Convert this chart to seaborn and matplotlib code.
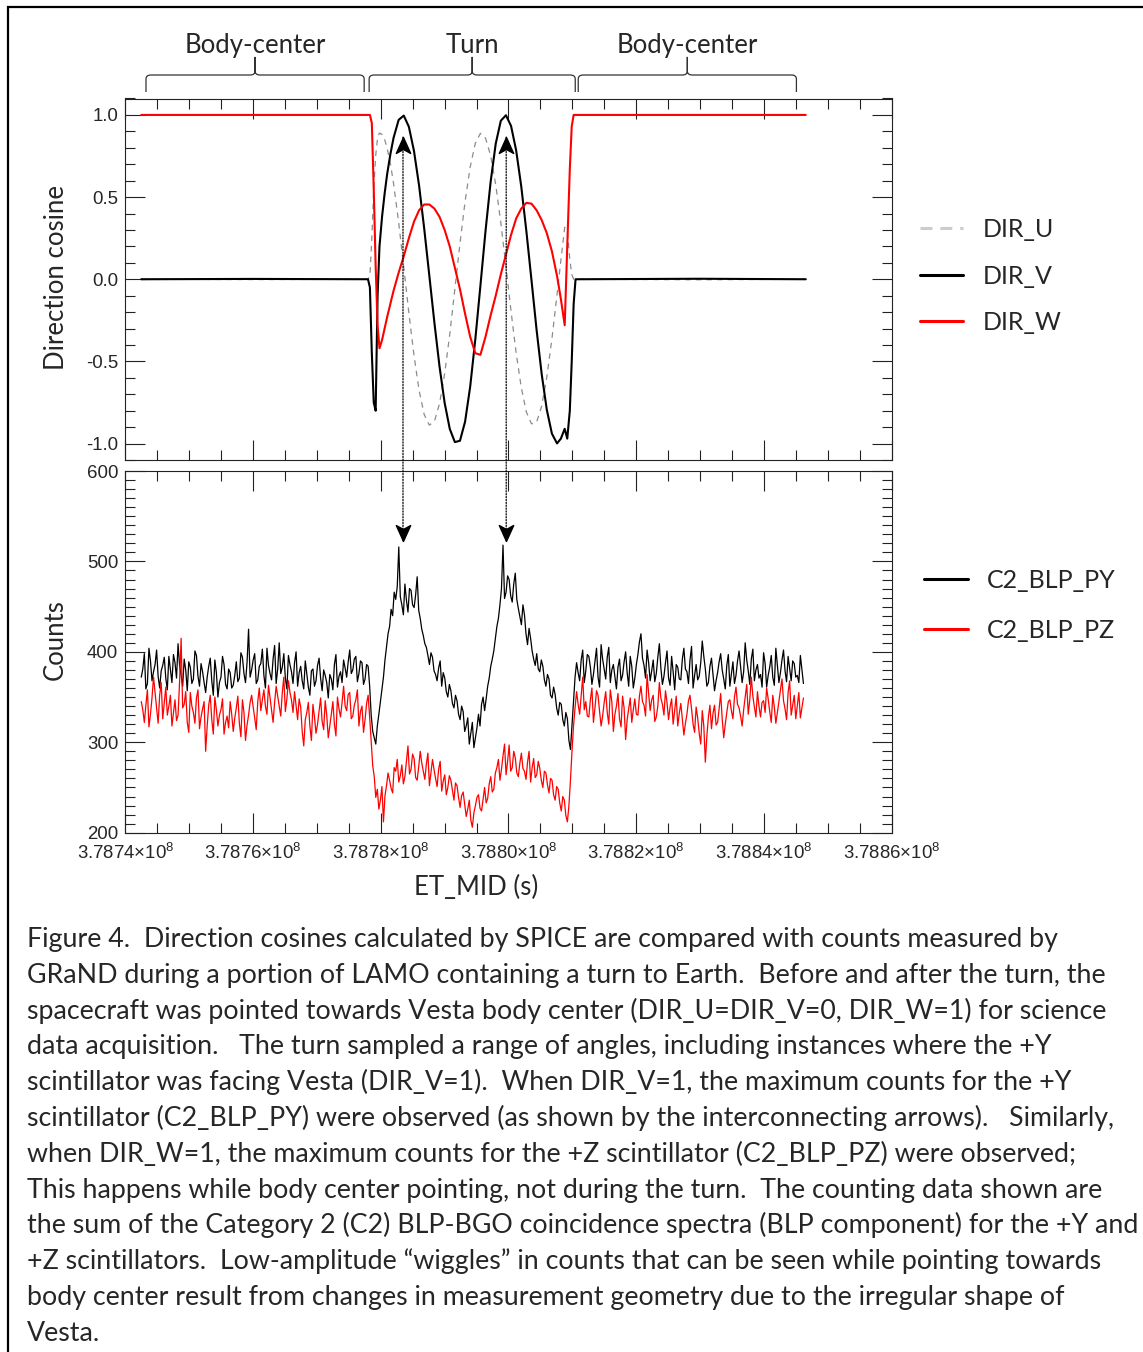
import numpy as np
import pandas as pd
import matplotlib
matplotlib.use("Agg")
import matplotlib.pyplot as plt
from matplotlib.lines import Line2D
from matplotlib.patches import ConnectionPatch, PathPatch, Rectangle
from matplotlib.path import Path
from matplotlib.ticker import MultipleLocator, FuncFormatter, FormatStrFormatter
from matplotlib.transforms import blended_transform_factory
import seaborn as sns

# ET_MID reference epoch (s); all times below are offsets from it
T0 = 378740000.0

# Direction cosines
dir_t = [2500, 20000,
         38000, 38300, 38600, 38900, 39200, 39500, 39800, 40200, 40600, 41000, 41500, 42000,
         42800, 43600, 44400, 45200, 46000, 46800, 47600, 48400, 49200, 50000, 50800, 51600,
         52400, 53200, 54000, 54800, 55600, 56400, 57200, 58000, 58800, 59600,
         60400, 61200, 62000, 62800, 63600, 64400, 65200, 66000, 66800, 67600,
         68200, 68800, 69200, 69600, 69900, 70200, 70500, 71000,
         90000, 106550]
dir_u = [0.0, -0.002,
         0.0, 0.02, 0.25, 0.55, 0.75, 0.86, 0.89, 0.881, 0.851, 0.798, 0.705, 0.584,
         0.347, 0.074, -0.205, -0.463, -0.676, -0.823, -0.888, -0.865, -0.757, -0.575, -0.336, -0.060,
         0.217, 0.473, 0.683, 0.827, 0.888, 0.859, 0.753, 0.575, 0.343, 0.078,
         -0.195, -0.449, -0.659, -0.808, -0.880, -0.870, -0.771, -0.595, -0.362, -0.093,
         0.115, 0.316, 0.30, 0.12, 0.03, 0.0, 0.0, 0.0,
         -0.003, 0.0]
dir_v = [0.0, 0.002,
         0.0, -0.05, -0.45, -0.75, -0.8, -0.1, 0.2, 0.38, 0.52, 0.64, 0.76, 0.86,
         0.97, 0.996, 0.928, 0.781, 0.570, 0.309, 0.023, -0.265, -0.531, -0.752, -0.910, -0.991,
         -0.983, -0.867, -0.654, -0.367, -0.04, 0.293, 0.592, 0.825, 0.965, 0.998,
         0.933, 0.784, 0.564, 0.292, -0.006, -0.309, -0.578, -0.795, -0.940, -0.999,
         -0.97, -0.91, -0.97, -0.8, -0.5, -0.15, 0.0, 0.0,
         0.003, 0.0]
dir_w = [1.0, 1.0,
         1.0, 1.0, 0.95, 0.55, 0.08, -0.28, -0.42, -0.37, -0.30, -0.23, -0.15, -0.07,
         0.04, 0.14, 0.25, 0.35, 0.42, 0.455, 0.455, 0.43, 0.38, 0.30, 0.20, 0.07,
         -0.06, -0.21, -0.35, -0.45, -0.46, -0.35, -0.22, -0.10, 0.03, 0.15,
         0.27, 0.37, 0.43, 0.465, 0.46, 0.42, 0.36, 0.28, 0.17, 0.02,
         -0.12, -0.28, 0.2, 0.67, 0.93, 1.0, 1.0, 1.0,
         1.0, 1.0]

# Counts, one value every 240 s starting at T0 + 2500 s
cnt_start = 2500.0
cnt_step = 240.0
c2_blp_py = [
    372, 381, 398, 359, 365, 404, 390, 368, 378, 386, 402, 373, 360, 379, 385, 394, 371, 358, 395, 380,
    366, 397, 388, 371, 409, 385, 374, 362, 392, 380, 357, 389, 383, 365, 370, 401, 396, 373, 362, 387,
    378, 366, 355, 372, 384, 393, 368, 352, 391, 377, 350, 366, 372, 395, 386, 364, 359, 381, 377, 360,
    363, 374, 389, 367, 371, 399, 394, 376, 366, 388, 425, 372, 380, 391, 398, 365, 369, 384, 387, 403,
    374, 360, 404, 385, 376, 369, 392, 407, 365, 381, 410, 376, 383, 398, 371, 359, 396, 386, 378, 365,
    388, 400, 362, 377, 384, 368, 359, 390, 376, 361, 352, 379, 381, 362, 368, 385, 393, 371, 357, 380,
    374, 366, 349, 375, 370, 358, 386, 397, 361, 373, 378, 366, 391, 382, 372, 389, 402, 376, 380, 392,
    395, 367, 376, 390, 388, 364, 370, 386, 384, 362,
    330, 312, 305, 298, 318, 331, 345, 358, 372, 391, 405, 420, 428, 447, 440, 466, 458, 472, 516, 461,
    452, 441, 475, 457, 444, 470, 468, 452, 449, 463, 483, 446, 437, 425, 418, 409, 405, 396, 386, 399,
    394, 379, 375, 368, 382, 390, 362, 377, 371, 356, 350, 364, 357, 343, 338, 352, 346, 331, 325, 340,
    334, 312, 318, 327, 298, 310, 322, 294, 305, 316, 331, 318, 342, 350, 335, 348, 362, 371, 384, 392,
    401, 415, 428, 437, 452, 470, 518, 459, 466, 484, 480, 462, 455, 475, 487, 458, 448, 439, 430, 452,
    441, 420, 408, 426, 415, 401, 392, 385, 398, 381, 378, 391, 384, 369, 362, 375, 370, 352, 349, 361,
    353, 338, 330, 344, 342, 325, 318, 333, 326, 302, 292, 318, 345, 372,
    388, 377, 368, 391, 402, 366, 379, 397, 395, 383, 364, 375, 390, 404, 372, 361, 408, 392, 381, 370,
    394, 405, 366, 380, 386, 372, 359, 383, 392, 368, 374, 389, 400, 377, 362, 395, 384, 360, 371, 386,
    397, 411, 420, 393, 385, 371, 402, 388, 368, 379, 391, 367, 376, 394, 409, 382, 364, 373, 388, 401,
    371, 363, 395, 378, 358, 386, 383, 370, 369, 392, 404, 381, 378, 365, 391, 406, 360, 374, 386, 369,
    373, 388, 412, 395, 381, 362, 366, 384, 393, 375, 357, 368, 377, 389, 398, 380, 370, 359, 385, 397,
    362, 376, 389, 365, 374, 390, 401, 383, 366, 378, 410, 391, 379, 364, 392, 403, 368, 380, 386, 371,
    375, 361, 399, 387, 361, 374, 383, 396, 372, 363, 404, 385, 366, 377, 391, 402, 379, 367, 395, 381,
    368, 390, 387, 372, 374, 366, 396, 380, 365]
c2_blp_pz = [
    345, 336, 322, 341, 358, 317, 331, 349, 372, 355, 338, 321, 352, 366, 326, 343, 361, 330, 340, 352,
    318, 333, 347, 324, 330, 367, 415, 338, 342, 356, 322, 311, 355, 340, 333, 321, 349, 358, 315, 328,
    337, 345, 290, 318, 341, 352, 325, 309, 350, 336, 318, 330, 336, 348, 309, 322, 329, 316, 345, 331,
    312, 327, 338, 351, 321, 306, 347, 333, 302, 319, 330, 344, 352, 339, 327, 314, 345, 360, 335, 347,
    358, 340, 331, 363, 349, 336, 322, 344, 362, 351, 340, 329, 355, 372, 334, 348, 368, 355, 347, 333,
    356, 341, 325, 348, 339, 312, 296, 325, 333, 344, 318, 302, 342, 328, 310, 320, 335, 349, 323, 314,
    346, 330, 305, 318, 331, 345, 320, 307, 350, 337, 328, 344, 362, 340, 335, 353, 355, 326, 329, 341,
    347, 358, 318, 334, 340, 311, 325, 343, 352, 328,
    300, 274, 262, 239, 248, 226, 236, 251, 212, 241, 252, 266, 258, 249, 244, 272, 268, 281, 256, 263,
    275, 254, 262, 279, 296, 265, 270, 287, 282, 261, 258, 273, 290, 277, 268, 259, 276, 288, 252, 266,
    281, 270, 260, 251, 270, 279, 246, 257, 264, 242, 250, 263, 258, 247, 236, 255, 252, 239, 228, 241,
    245, 231, 218, 226, 236, 214, 206, 222, 230, 239, 242, 227, 224, 237, 250, 233, 238, 254, 262, 245,
    248, 266, 272, 281, 258, 270, 285, 298, 264, 279, 297, 268, 272, 290, 283, 266, 262, 277, 288, 271,
    268, 259, 278, 290, 256, 272, 282, 261, 264, 279, 271, 258, 250, 268, 266, 253, 244, 260, 258, 242,
    236, 251, 248, 233, 224, 240, 236, 219, 212, 230, 258, 290, 318, 338,
    356, 342, 331, 351, 372, 336, 345, 329, 328, 347, 360, 322, 338, 357, 352, 334, 318, 329, 344, 356,
    333, 320, 358, 345, 312, 331, 340, 354, 326, 317, 351, 338, 303, 325, 337, 349, 322, 336, 348, 331,
    330, 351, 362, 345, 341, 329, 375, 354, 335, 347, 352, 323, 328, 340, 366, 349, 342, 330, 357, 344,
    325, 339, 348, 320, 336, 351, 318, 332, 343, 326, 308, 321, 331, 346, 352, 337, 320, 311, 339, 327,
    310, 298, 335, 318, 278, 307, 328, 341, 315, 332, 341, 319, 322, 337, 354, 326, 305, 320, 333, 345,
    347, 335, 326, 350, 361, 342, 338, 329, 318, 336, 350, 364, 331, 347, 372, 351, 339, 328, 356, 340,
    328, 344, 346, 333, 360, 348, 334, 322, 352, 339, 321, 333, 345, 358, 370, 346, 337, 325, 355, 368,
    330, 341, 352, 326, 341, 355, 327, 338, 349]

# times of the DIR_V = 1 peaks joined to the count maxima by arrows
arrow_t = [43480, 59640]

# pointing phases shown by braces above the plot
phase_labels = ["Body-center", "Turn", "Body-center"]
phase_start = [3240, 38180, 70920]
phase_end = [37400, 70450, 105080]

caption = [
    "Figure 4.  Direction cosines calculated by SPICE are compared with counts measured by",
    "GRaND during a portion of LAMO containing a turn to Earth.  Before and after the turn, the",
    "spacecraft was pointed towards Vesta body center (DIR_U=DIR_V=0, DIR_W=1) for science",
    "data acquisition.   The turn sampled a range of angles, including instances where the +Y",
    "scintillator was facing Vesta (DIR_V=1).  When DIR_V=1, the maximum counts for the +Y",
    "scintillator (C2_BLP_PY) were observed (as shown by the interconnecting arrows).   Similarly,",
    "when DIR_W=1, the maximum counts for the +Z scintillator (C2_BLP_PZ) were observed;",
    "This happens while body center pointing, not during the turn.  The counting data shown are",
    "the sum of the Category 2 (C2) BLP-BGO coincidence spectra (BLP component) for the +Y and",
    "+Z scintillators.  Low-amplitude \u201cwiggles\u201d in counts that can be seen while pointing towards",
    "body center result from changes in measurement geometry due to the irregular shape of",
    "Vesta.",
]

# ---- data frames
df_dir = pd.DataFrame({"ET_MID": T0 + np.array(dir_t, dtype=float),
                       "DIR_U": dir_u, "DIR_V": dir_v, "DIR_W": dir_w})
df_py = pd.DataFrame({"ET_MID": T0 + cnt_start + cnt_step * np.arange(len(c2_blp_py)),
                      "Counts": c2_blp_py})
df_pz = pd.DataFrame({"ET_MID": T0 + cnt_start + cnt_step * np.arange(len(c2_blp_pz)),
                      "Counts": c2_blp_pz})

# ---- style
sns.set_style("ticks")
plt.rcParams["font.family"] = ["Liberation Sans", "DejaVu Sans"]
plt.rcParams["mathtext.fontset"] = "custom"
plt.rcParams["mathtext.rm"] = "Liberation Sans"
plt.rcParams["mathtext.it"] = "Liberation Sans"
plt.rcParams["axes.unicode_minus"] = False
plt.rcParams["axes.edgecolor"] = "#222222"
plt.rcParams["axes.linewidth"] = 0.8
CAL = ["Lato", "DejaVu Sans"]
CAL_SIZE = 18.5

W, H = 1143, 1352
fig = plt.figure(figsize=(W / 100, H / 100), dpi=100)
ax_top = fig.add_axes([125.3 / W, 1 - 460 / H, 766.4 / W, 361.5 / H])
ax_bot = fig.add_axes([125.3 / W, 1 - 832.7 / H, 766.4 / W, 361.7 / H])

sns.lineplot(data=df_dir, x="ET_MID", y="DIR_U", ax=ax_top, color="#8c8c8c",
             linewidth=0.9, linestyle=(0, (4.5, 4)))
sns.lineplot(data=df_dir, x="ET_MID", y="DIR_V", ax=ax_top, color="black", linewidth=1.5)
sns.lineplot(data=df_dir, x="ET_MID", y="DIR_W", ax=ax_top, color="red", linewidth=1.5)

sns.lineplot(data=df_py, x="ET_MID", y="Counts", ax=ax_bot, color="black", linewidth=0.9)
sns.lineplot(data=df_pz, x="ET_MID", y="Counts", ax=ax_bot, color="red", linewidth=0.9)

for ax in (ax_top, ax_bot):
    ax.set_xlim(T0, T0 + 120000)
    ax.xaxis.set_major_locator(MultipleLocator(20000))
    ax.xaxis.set_minor_locator(MultipleLocator(5000))
    ax.tick_params(which="both", direction="in", top=True, right=True, width=0.8,
                   color="#222222", labelsize=13.4)
    ax.tick_params(which="major", length=14.4)
    ax.tick_params(which="minor", length=7.5)
    ax.tick_params(axis="y", pad=5)
    ax.tick_params(axis="x", pad=7)
    ax.set_xlabel("")
    ax.set_ylabel("")

ax_top.set_ylim(-1.1, 1.1)
ax_top.yaxis.set_major_locator(MultipleLocator(0.5))
ax_top.yaxis.set_minor_locator(MultipleLocator(0.1))
ax_top.yaxis.set_major_formatter(FormatStrFormatter("%.1f"))
ax_top.tick_params(axis="x", labelbottom=False)

ax_bot.set_ylim(200, 600)
ax_bot.yaxis.set_major_locator(MultipleLocator(100))
ax_bot.yaxis.set_minor_locator(MultipleLocator(10))
ax_bot.xaxis.set_major_formatter(FuncFormatter(lambda v, p: f"{v / 1e8:.4f}\u00d710$^{{8}}$"))

# axis titles
fig.text(57 / W, 1 - 277 / H, "Direction cosine", rotation=90, ha="center", va="center",
         family=CAL, fontsize=CAL_SIZE)
fig.text(55 / W, 1 - 640 / H, "Counts", rotation=90, ha="center", va="center",
         family=CAL, fontsize=CAL_SIZE)
fig.text(476 / W, 1 - 887 / H, "ET_MID (s)", ha="center", va="center",
         family=CAL, fontsize=CAL_SIZE)

# braces with phase labels
tr = blended_transform_factory(ax_top.transData, ax_top.transAxes)
r = 780.0
dy = 0.011
y_b, y_l, y_t = 1.018, 1.065, 1.115
for lab, a, b in zip(phase_labels, phase_start, phase_end):
    x0, x1 = T0 + a, T0 + b
    xm = (x0 + x1) / 2
    verts = [(x0, y_b), (x0, y_l - dy), (x0, y_l), (x0 + r, y_l), (xm - r, y_l),
             (xm, y_l), (xm, y_l + dy), (xm, y_t), (xm, y_l + dy), (xm, y_l), (xm + r, y_l),
             (x1 - r, y_l), (x1, y_l), (x1, y_l - dy), (x1, y_b)]
    codes = [Path.MOVETO, Path.LINETO, Path.CURVE3, Path.CURVE3, Path.LINETO,
             Path.CURVE3, Path.CURVE3, Path.LINETO, Path.LINETO, Path.CURVE3, Path.CURVE3,
             Path.LINETO, Path.CURVE3, Path.CURVE3, Path.LINETO]
    ax_top.add_patch(PathPatch(Path(verts, codes), transform=tr, fill=False,
                               lw=0.9, ec="#333333", clip_on=False))
    ax_top.text(xm, 1.126, lab, transform=tr, ha="center", va="baseline",
                family=CAL, fontsize=CAL_SIZE)

# interconnecting arrows
up_head = Path([(0, 1), (0.9, -1), (0, -0.5), (-0.9, -1), (0, 1)],
               [Path.MOVETO, Path.LINETO, Path.LINETO, Path.LINETO, Path.CLOSEPOLY])
down_head = Path([(0, -1), (0.9, 1), (0, 0.5), (-0.9, 1), (0, -1)],
                 [Path.MOVETO, Path.LINETO, Path.LINETO, Path.LINETO, Path.CLOSEPOLY])
for t in arrow_t:
    x = T0 + t
    con = ConnectionPatch(xyA=(x, 0.865), coordsA="data", axesA=ax_top,
                          xyB=(x, 523), coordsB="data", axesB=ax_bot,
                          linestyle=(0, (1, 1.3)), lw=0.9, color="black")
    fig.add_artist(con)
    ax_top.plot([x], [0.818], marker=up_head, markersize=11.5, color="black",
                linestyle="none", clip_on=False, zorder=5)
    ax_bot.plot([x], [531.8], marker=down_head, markersize=11.5, color="black",
                linestyle="none", clip_on=False, zorder=5)

# legends
h_dir = [Line2D([], [], color="#cccccc", lw=2.2, linestyle=(0, (3.9, 2.6))),
         Line2D([], [], color="black", lw=2.2),
         Line2D([], [], color="red", lw=2.2)]
fig.legend(h_dir, ["DIR_U", "DIR_V", "DIR_W"], loc="upper left",
           bbox_to_anchor=(920 / W, 1 - 218 / H), frameon=False, borderpad=0,
           borderaxespad=0, handlelength=1.72, handletextpad=0.8, labelspacing=0.94,
           prop={"family": CAL, "size": 18})
h_cnt = [Line2D([], [], color="black", lw=2.2), Line2D([], [], color="red", lw=2.2)]
fig.legend(h_cnt, ["C2_BLP_PY", "C2_BLP_PZ"], loc="upper left",
           bbox_to_anchor=(924 / W, 1 - 569 / H), frameon=False, borderpad=0,
           borderaxespad=0, handlelength=1.76, handletextpad=0.76, labelspacing=1.08,
           prop={"family": CAL, "size": 18})

# caption
for k, line in enumerate(caption):
    fig.text(27 / W, 1 - (947 + 35.8 * k) / H, line, ha="left", va="baseline",
             family=CAL, fontsize=19.25)

# frame round the whole figure
fig.add_artist(Rectangle((8 / W, -0.02), 1.2, 1.02 - 7 / H, transform=fig.transFigure,
                         fill=False, lw=1.6, ec="black"))

fig.savefig("out.png", dpi=100)
